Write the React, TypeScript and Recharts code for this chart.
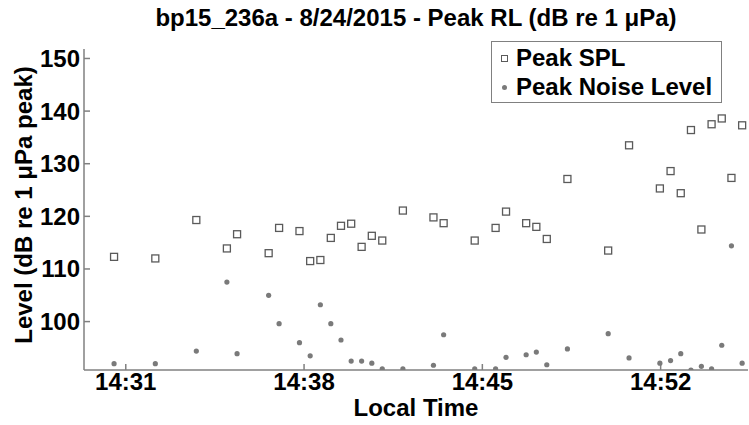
import { ScatterChart, Scatter, XAxis, YAxis } from "recharts";

// minutes after 14:00
const times = [
  30.54, 32.16, 33.77, 34.97, 35.37, 36.61, 37.02, 37.82, 38.24, 38.64, 39.05, 39.45, 39.85,
  40.26, 40.66, 41.07, 41.88, 43.08, 43.48, 44.7, 45.52, 45.93, 46.72, 47.12, 47.53, 48.34,
  49.94, 50.76, 51.97, 52.39, 52.79, 53.19, 53.6, 54.0, 54.4, 54.78, 55.2,
];
const peakSpl = [
  112.3, 112.0, 119.3, 113.9, 116.6, 113.0, 117.8, 117.2, 111.5, 111.7, 115.9, 118.2, 118.6,
  114.2, 116.3, 115.4, 121.1, 119.8, 118.7, 115.4, 117.8, 120.9, 118.7, 118.0, 115.7, 127.1,
  113.5, 133.5, 125.3, 128.6, 124.4, 136.4, 117.5, 137.5, 138.6, 127.3, 137.3,
];
const peakNoise = [
  92.0, 92.0, 94.4, 107.5, 93.9, 105.0, 99.6, 96.0, 93.5, 103.2, 99.6, 96.5, 92.5,
  92.5, 92.1, 91.0, 91.0, 91.7, 97.5, 91.0, 91.0, 93.2, 93.7, 94.2, 91.8, 94.8,
  97.7, 93.1, 92.1, 92.6, 93.9, 90.8, 91.5, 91.0, 95.5, 114.4, 92.1,
];
const xTicks = [31, 38, 45, 52];
const yTicks = [100, 110, 120, 130, 140, 150];
const xDomain = [29.36, 55.43];
const yDomain = [90.8, 151.8];

const splData = times.map((t, i) => ({ t, v: peakSpl[i] }));
const noiseData = times.map((t, i) => ({ t, v: peakNoise[i] }));

const FONT = '"Liberation Sans", Arial, Helvetica, sans-serif';
const AXIS = "#808080";
const tickFont = { fill: "#000", fontSize: 24, fontWeight: 700, fontFamily: FONT };
const axisLine = { stroke: AXIS, strokeWidth: 1.5 };
const timeLabel = (m: number) => `14:${Math.round(m)}`;
const noLabel = () => "";

function SquareMark(props: any) {
  const { cx, cy } = props;
  return <rect x={cx - 3.5} y={cy - 3.5} width={7} height={7} fill="none" stroke="#5a5a5a" strokeWidth={1.3} />;
}

function DotMark(props: any) {
  const { cx, cy } = props;
  return <circle cx={cx} cy={cy} r={2.6} fill="#7a7a7a" />;
}

const textStyle: React.CSSProperties = {
  position: "absolute",
  fontFamily: FONT,
  fontWeight: 700,
  fontSize: 24,
  lineHeight: "28px",
  color: "#000",
  whiteSpace: "nowrap",
};

export default function App() {
  return (
    <div style={{ position: "absolute", left: 0, top: 0, width: 749, height: 425, background: "#fff" }}>
      <ScatterChart width={749} height={425} margin={{ top: 49, right: 1, bottom: 0, left: 0 }}>
        <XAxis
          xAxisId="b"
          dataKey="t"
          type="number"
          domain={xDomain}
          ticks={xTicks}
          allowDataOverflow
          height={55}
          tickSize={-6}
          tickMargin={9}
          axisLine={axisLine}
          tickLine={axisLine}
          tick={tickFont}
          tickFormatter={timeLabel}
        />
        <XAxis
          xAxisId="t"
          orientation="top"
          dataKey="t"
          type="number"
          domain={xDomain}
          ticks={xTicks}
          allowDataOverflow
          height={0}
          tickSize={-6}
          axisLine={axisLine}
          tickLine={axisLine}
          tickFormatter={noLabel}
        />
        <YAxis
          yAxisId="l"
          dataKey="v"
          type="number"
          domain={yDomain}
          ticks={yTicks}
          allowDataOverflow
          width={84}
          tickSize={-6}
          tickMargin={10}
          axisLine={axisLine}
          tickLine={axisLine}
          tick={tickFont}
        />
        <YAxis
          yAxisId="r"
          orientation="right"
          dataKey="v"
          type="number"
          domain={yDomain}
          ticks={yTicks}
          allowDataOverflow
          width={0}
          tickSize={-6}
          axisLine={axisLine}
          tickLine={axisLine}
          tickFormatter={noLabel}
        />
        <Scatter xAxisId="b" yAxisId="l" data={noiseData} dataKey="v" shape={DotMark} isAnimationActive={false} />
        <Scatter xAxisId="b" yAxisId="l" data={splData} dataKey="v" shape={SquareMark} isAnimationActive={false} />
      </ScatterChart>

      <div style={{ ...textStyle, left: 84, width: 664, top: 4, textAlign: "center" }}>
        bp15_236a - 8/24/2015 - Peak RL (dB re 1 μPa)
      </div>
      <div style={{ ...textStyle, left: 84, width: 664, top: 394, textAlign: "center" }}>Local Time</div>
      <div
        style={{
          ...textStyle,
          left: 24 - 170,
          top: 205 - 14,
          width: 340,
          textAlign: "center",
          transform: "rotate(-90deg)",
        }}
      >
        Level (dB re 1 μPa peak)
      </div>

      <div
        style={{
          position: "absolute",
          left: 491,
          top: 41,
          width: 231,
          height: 62,
          boxSizing: "border-box",
          border: `1.5px solid ${AXIS}`,
          background: "#fff",
        }}
      >
        <div style={{ ...textStyle, left: 24, top: 2 }}>Peak SPL</div>
        <div style={{ position: "absolute", left: 9, top: 13, width: 5, height: 5, border: "1.2px solid #5a5a5a" }} />
        <div style={{ ...textStyle, left: 24, top: 31 }}>Peak Noise Level</div>
        <div
          style={{ position: "absolute", left: 9.5, top: 42.5, width: 5, height: 5, borderRadius: "50%", background: "#7a7a7a" }}
        />
      </div>
    </div>
  );
}
